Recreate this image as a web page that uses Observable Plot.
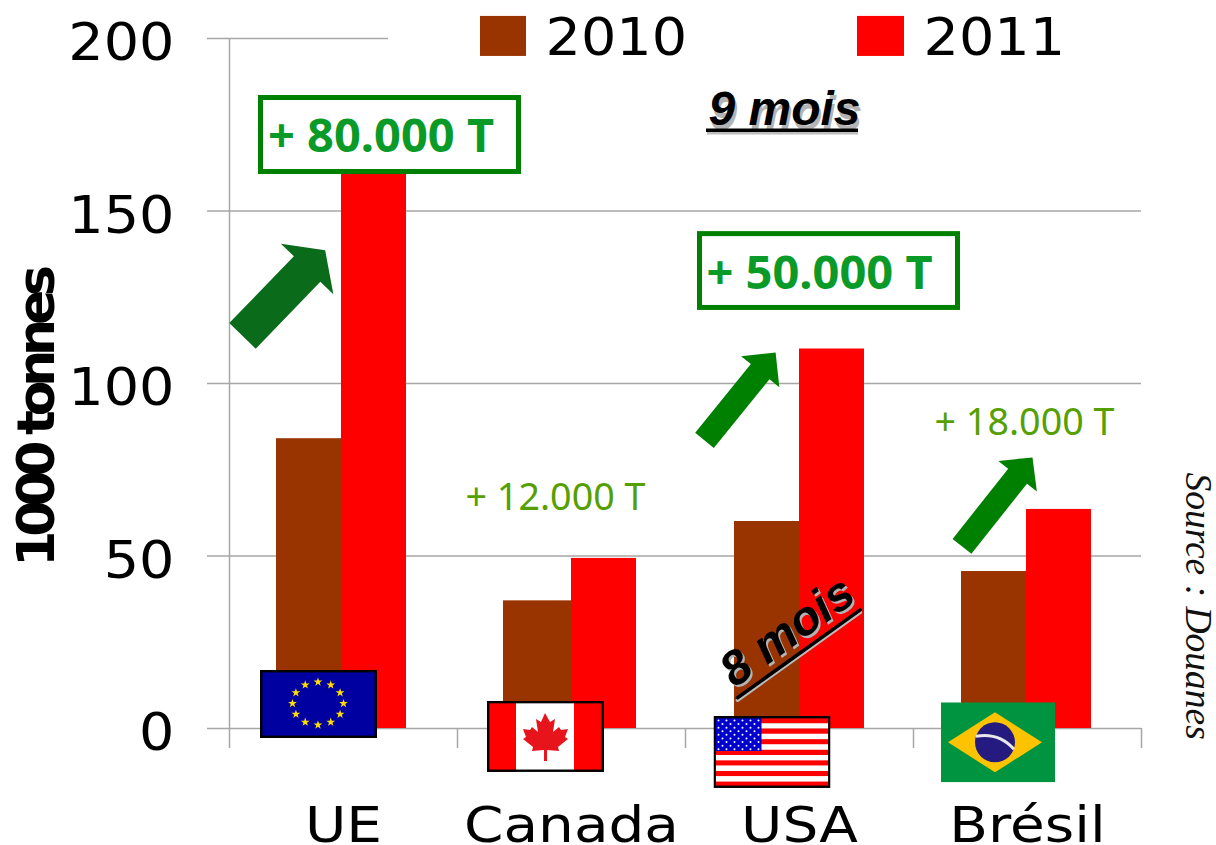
<!DOCTYPE html>
<html><head><meta charset="utf-8">
<script src="https://cdn.jsdelivr.net/npm/d3@7"></script>
<script src="https://cdn.jsdelivr.net/npm/@observablehq/plot@0.6"></script>
<style>html,body{margin:0;padding:0;background:#fff}svg{display:block}</style>
</head><body>
<script>
// ---- data ----
const countries = ["UE", "Canada", "USA", "Brésil"];
const values2010 = [84, 37, 60, 45.5];
const values2011 = [164, 49.3, 110, 63.5];
const yTicks = [0, 50, 100, 150, 200];

// ---- styles ----
const brown = "#993300", red = "#ff0000", grid = "#a6a6a6";
const boxGreen = "#008000", boldGreen = "#0a9a28", lightGreen = "#55a000";
const sansUI = "'Noto Sans', 'Open Sans', sans-serif";
const wide = "'DejaVu Sans', sans-serif";
const arial = "'Liberation Sans', Arial, sans-serif";

// ---- flags (self-contained pictures placed through the scales) ----
const uri = s => "data:image/svg+xml," + encodeURIComponent(s);
const star = (cx, cy, r, fill) => {
  const p = [];
  for (let i = 0; i < 10; i++) {
    const a = -Math.PI / 2 + i * Math.PI / 5, q = i % 2 ? r * 0.4 : r;
    p.push((cx + q * Math.cos(a)).toFixed(2) + "," + (cy + q * Math.sin(a)).toFixed(2));
  }
  return `<polygon points="${p.join(" ")}" fill="${fill}"/>`;
};
const euStars = d3.range(12).map(i => star(58 + 25.5 * Math.sin(i * Math.PI / 6), 33.5 - 21.5 * Math.cos(i * Math.PI / 6), 4.6, "#ffdd00")).join("");
const flagEU = uri(`<svg xmlns="http://www.w3.org/2000/svg" viewBox="0 0 117 68"><rect x="1.2" y="1.2" width="114.6" height="65.6" fill="#0000a0" stroke="#000" stroke-width="2.4"/>${euStars}</svg>`);
const flagCA = uri(`<svg xmlns="http://www.w3.org/2000/svg" viewBox="0 0 117 71"><rect width="117" height="71" fill="#fff"/><rect width="29" height="71" fill="#f00"/><rect x="87" width="30" height="71" fill="#f00"/>
<path d="M58 12 L63 21 L68 18 L66 31 L72 26 L74 29 L81 28 L78 36 L81 38 L71 46 L72 50 L60 49 L60 60 L57 60 L57 49 L45 50 L46 46 L36 38 L39 36 L36 28 L43 29 L45 26 L51 31 L49 18 L54 21 Z" fill="#e8141c"/>
<rect x="1.2" y="1.2" width="114.6" height="68.6" fill="none" stroke="#000" stroke-width="2.4"/></svg>`);
const usStripes = d3.range(13).map(i => `<rect x="1" y="${2 + i * 5.3}" width="115" height="5.3" fill="${i % 2 ? "#fff" : "#f00"}"/>`).join("");
const usDots = d3.range(9).flatMap(r => d3.range(r % 2 ? 5 : 6).map(c => `<circle cx="${5 + (r % 2 ? 4 : 0) + c * 8}" cy="${4.5 + r * 3.6}" r="1" fill="#fff"/>`)).join("");
const flagUS = uri(`<svg xmlns="http://www.w3.org/2000/svg" viewBox="0 0 117 72">${usStripes}<rect x="1" y="1" width="47" height="34" fill="#0000cc"/>${usDots}<rect x="1.2" y="1.2" width="114.6" height="69.6" fill="none" stroke="#000" stroke-width="2.4"/></svg>`);
const flagBR = uri(`<svg xmlns="http://www.w3.org/2000/svg" viewBox="0 0 114 80"><rect width="114" height="80" fill="#009440"/><polygon points="7,40 54,10 101,40 54,70" fill="#fdc300"/><circle cx="54" cy="40" r="20" fill="#251a7f"/><path d="M35 34 Q58 30 73 47" fill="none" stroke="#e8e8e8" stroke-width="3"/></svg>`);

// ---- custom shapes for Plot.vector ----
const blockArrow = (w, h, hl) => ({draw(c, l) {
  c.moveTo(-w, 0); c.lineTo(-w, hl - l); c.lineTo(-h, hl - l); c.lineTo(0, -l);
  c.lineTo(h, hl - l); c.lineTo(w, hl - l); c.lineTo(w, 0); c.closePath();
}});
const stick = {draw(c, l) { c.moveTo(0, 0); c.lineTo(0, -l); }};

// ---- helper: one annotation placed by category + value ----
const say = (text, cat, y, dx, o) => Plot.text([text], {x: () => cat, y: () => y, dx, text: d => d, textAnchor: "start", lineAnchor: "bottom", ...o});
const bar2010nudge = [-2, 0, 0, -1], bar2010extra = [0, 3, 0, 0], bar2011nudge = [-2, 0, 0, -1];

const chart = Plot.plot({
  width: 1216, height: 845,
  marginLeft: 229, marginRight: 75, marginTop: 38, marginBottom: 117,
  style: {background: "#fff", overflow: "visible"},
  x: {domain: countries, padding: 0, round: false, axis: null},
  y: {domain: [0, 200], axis: null},
  marks: [
    // grid and frame
    Plot.ruleY(yTicks.slice(0, -1), {stroke: grid, strokeWidth: 1.5, insetLeft: -22}),
    Plot.ruleY([200], {stroke: grid, strokeWidth: 1.5, insetLeft: -22, insetRight: 753}),
    Plot.ruleX(["UE"], {x: d => d, dx: -114, y1: 200, y2: -5.8, stroke: grid, strokeWidth: 1.5}),
    Plot.ruleX(countries.slice(1), {x: d => d, dx: -114, y1: 0, y2: -5.8, stroke: grid, strokeWidth: 1.5}),
    Plot.ruleX(["Brésil"], {x: d => d, dx: 114, y1: 0, y2: -5.8, stroke: grid, strokeWidth: 1.5}),

    // bars
    ...countries.flatMap((c, i) => [
      Plot.barY([c], {x: d => d, y1: 0, y2: () => values2010[i], fill: brown, insetLeft: 49 + bar2010nudge[i] - bar2010extra[i], insetRight: 114 - bar2010nudge[i]}),
      Plot.barY([c], {x: d => d, y1: 0, y2: () => values2011[i], fill: red, insetLeft: 114 + bar2011nudge[i], insetRight: 49 - bar2011nudge[i]})
    ]),

    // axes text
    Plot.axisY({ticks: yTicks, tickSize: 0, tickPadding: 55, dy: 5, fontSize: 52, fontFamily: wide, fill: "#000", label: null, className: "stretch"}),
    Plot.axisX({tickSize: 0, tickPadding: 78, fontSize: 50, fontFamily: wide, fill: "#000", label: null, className: "stretchx"}),
    say("1000 tonnes", "UE", 89.7, -290, {rotate: -90, textAnchor: "middle", fontFamily: wide, fontWeight: 700, fontSize: 52, fill: "#000", className: "tight"}),
    say("Source : Douanes", "Brésil", 74.2, 158, {rotate: 90, fontFamily: "'Liberation Serif', serif", fontStyle: "italic", fontSize: 37.5, fill: "#111"}),

    // legend
    Plot.barY(["Canada"], {x: d => d, y1: 194.8, y2: 206.4, fill: brown, insetLeft: 23, insetRight: 159}),
    Plot.barY(["USA"], {x: d => d, y1: 194.8, y2: 206.4, fill: red, insetLeft: 172, insetRight: 9}),
    say("2010", "Canada", 195.1, -26, {fontFamily: wide, fontSize: 52, fill: "#000", className: "stretch"}),
    say("2011", "USA", 195.1, 124, {fontFamily: wide, fontSize: 52, fill: "#000", className: "stretch"}),

    // 9 mois
    say("9 mois", "USA", 174.2, -89, {fontFamily: arial, fontWeight: 700, fontStyle: "italic", fontSize: 48, fill: "#b4b4b4", dy: 2}),
    say("9 mois", "USA", 174.8, -91, {fontFamily: arial, fontWeight: 700, fontStyle: "italic", fontSize: 48, fill: "#000"}),
    Plot.ruleY([172.7], {stroke: "#bdbdbd", strokeWidth: 3.5, insetLeft: 478, insetRight: 283}),
    Plot.ruleY([173.4], {stroke: "#000", strokeWidth: 3.5, insetLeft: 477, insetRight: 283}),

    // arrows
    Plot.vector(["UE"], {x: d => d, y: () => 113.8, dx: -101, rotate: 44, length: 119, anchor: "start", shape: blockArrow(18.4, 36.5, 26), fill: "#0a6b1a", stroke: "none"}),
    Plot.vector(["USA"], {x: d => d, y: () => 83.5, dx: -95, rotate: 39, length: 113, anchor: "start", shape: blockArrow(12, 24.6, 24.5), fill: "#008000", stroke: "none"}),
    Plot.vector(["Brésil"], {x: d => d, y: () => 52.8, dx: -65.5, rotate: 38.4, length: 113.5, anchor: "start", shape: blockArrow(12, 24.6, 24), fill: "#008000", stroke: "none"}),

    // boxed gains
    Plot.barY(["UE"], {x: d => d, y1: 161.3, y2: 182.75, fill: "#fff", stroke: boxGreen, strokeWidth: 5, insetLeft: 31.5, insetRight: -61.5}),
    Plot.barY(["USA"], {x: d => d, y1: 121.9, y2: 143.3, fill: "#fff", stroke: boxGreen, strokeWidth: 5, insetLeft: 14.5, insetRight: -44.5}),
    say("+ 80.000 T", "UE", 167, -75.5, {fontFamily: sansUI, fontWeight: 700, fontSize: 47, fill: boldGreen}),
    say("+ 50.000 T", "USA", 127.5, -93, {fontFamily: sansUI, fontWeight: 700, fontSize: 47, fill: boldGreen}),
    say("+ 12.000 T", "Canada", 63.2, -106, {fontFamily: sansUI, fontSize: 37.7, fill: lightGreen}),
    say("+ 18.000 T", "Brésil", 85, -93, {fontFamily: sansUI, fontSize: 37.7, fill: lightGreen}),

    // flags
    Plot.image(["UE"], {x: d => d, y: () => 7.1, dx: -25, width: 117, height: 68, src: flagEU, preserveAspectRatio: "none"}),
    Plot.image(["Canada"], {x: d => d, y: () => -2.3, dx: -26, width: 117, height: 71, src: flagCA, preserveAspectRatio: "none"}),
    Plot.image(["USA"], {x: d => d, y: () => -6.8, dx: -27.5, width: 117, height: 72, src: flagUS, preserveAspectRatio: "none"}),
    Plot.image(["Brésil"], {x: d => d, y: () => -4, dx: -29.5, width: 114, height: 80, src: flagBR, preserveAspectRatio: "none"}),

    // 8 mois
    say("8 mois", "USA", 11, -63, {rotate: -35.6, fontFamily: arial, fontWeight: 700, fontStyle: "italic", fontSize: 48, fill: "#b4b4b4"}),
    say("8 mois", "USA", 11.6, -65, {rotate: -35.6, fontFamily: arial, fontWeight: 700, fontStyle: "italic", fontSize: 48, fill: "#000"}),
    Plot.vector(["USA"], {x: d => d, y: () => 8.2, dx: -62, rotate: 54.4, length: 151, anchor: "start", shape: stick, stroke: "#bdbdbd", strokeWidth: 3.5}),
    Plot.vector(["USA"], {x: d => d, y: () => 8.9, dx: -62, rotate: 54.4, length: 151, anchor: "start", shape: stick, stroke: "#000", strokeWidth: 3.5})
  ]
});
document.body.append(chart);
const stretch = (sel, k) => chart.querySelectorAll(sel).forEach(t => {
  t.setAttribute("textLength", (t.getComputedTextLength() * k).toFixed(1));
  t.setAttribute("lengthAdjust", "spacingAndGlyphs");
});
stretch(".stretch text", 1.07);
stretch(".stretchx text", 1.13);
chart.querySelectorAll(".tight text").forEach(t => t.style.letterSpacing = "-6.2px");
</script>
</body></html>
